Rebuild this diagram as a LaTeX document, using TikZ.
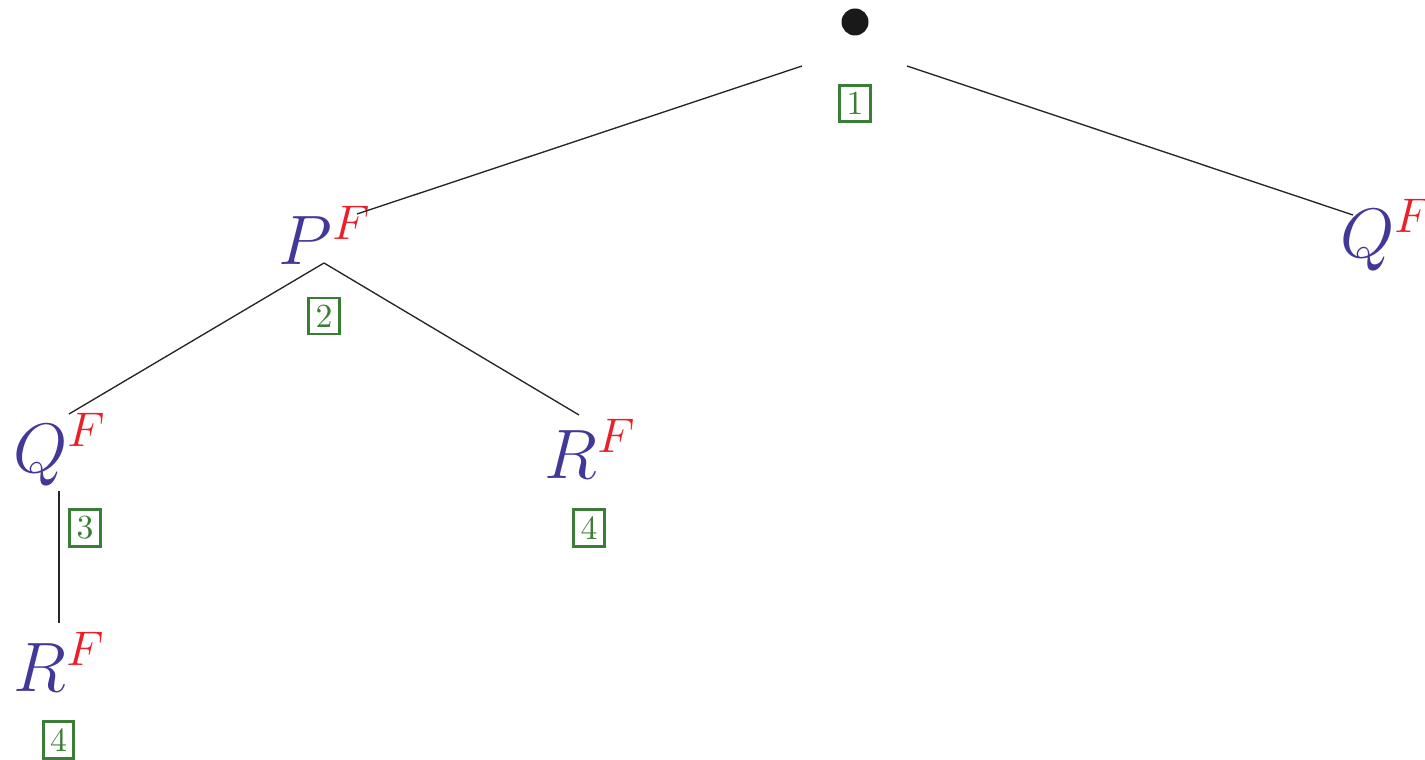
\documentclass[tikz,border=0pt]{standalone}
\usepackage{tikz}
\definecolor{lblue}{RGB}{66,56,152}
\definecolor{lred}{RGB}{236,30,40}
\definecolor{lgreen}{RGB}{58,125,52}
\newcommand{\lab}[1]{$\textcolor{lblue}{#1}^{\textcolor{lred}{F}}$}
\tikzset{
  lettr/.style={inner sep=0pt, anchor=base west, font=\huge},
  numbox/.style={draw=lgreen, text=lgreen, line width=0.8pt, inner sep=2pt, font=\normalsize},
  edgeline/.style={line width=0.4pt, black!85}
}
\begin{document}
\begin{tikzpicture}[x=0.2963pt,y=-0.2963pt]
\useasboundingbox (0,0) rectangle (1425,760);
% nodes
\node[circle, fill=black!90, minimum size=8pt, inner sep=0pt] (root) at (855,22) {};
\node[numbox] (b1) at (855,103.5) {1};
\node[lettr] (P) at (278,265) {\lab{P}};
\node[numbox] (b2) at (324,316) {2};
\node[lettr] (Qr) at (1340,258) {\lab{Q}};
\node[lettr] (Ql) at (13,472) {\lab{Q}};
\node[numbox] (b3) at (85,528) {3};
\node[lettr] (Rm) at (544,478) {\lab{R}};
\node[numbox] (b4m) at (589,528) {4};
\node[lettr] (Rb) at (13,691) {\lab{R}};
\node[numbox] (b4b) at (58.5,740) {4};
% edge end points
\coordinate (rootL) at (802,66);
\coordinate (rootR) at (907,66);
\coordinate (Pin) at (357,214);
\coordinate (Qrin) at (1353,215);
\coordinate (Pout) at (324,263);
\coordinate (Qlin) at (69,414);
\coordinate (Rmin) at (579,415);
\coordinate (Qlout) at (59,491);
\coordinate (Rbin) at (59,623);
% edges
\draw[edgeline] (rootL) -- (Pin);
\draw[edgeline] (rootR) -- (Qrin);
\draw[edgeline] (Pout) -- (Qlin);
\draw[edgeline] (Pout) -- (Rmin);
\draw[edgeline, line width=0.55pt] (Qlout) -- (Rbin);
\end{tikzpicture}
\end{document}
